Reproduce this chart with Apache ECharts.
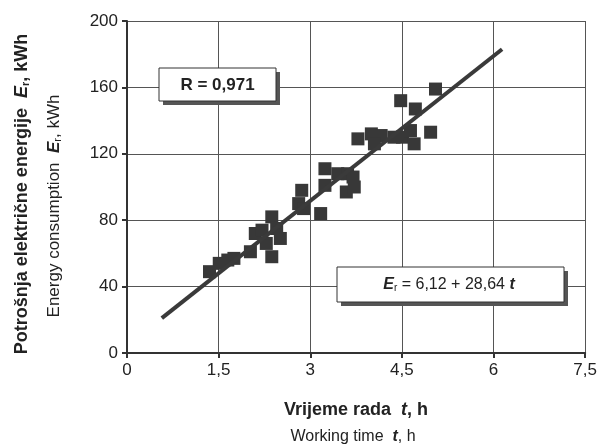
<!DOCTYPE html>
<html>
<head>
<meta charset="utf-8">
<script src="https://cdn.jsdelivr.net/npm/echarts@6/dist/echarts.min.js"></script>
<style>
  html, body { margin: 0; padding: 0; background: #fff; }
  #main { width: 600px; height: 446px; }
</style>
</head>
<body>
<div id="main"></div>
<script>
// izmjereni podaci (t, h ; E, kWh)
var tHours = [1.35, 1.51, 1.65, 1.75, 2.02, 2.10, 2.21, 2.37, 2.37, 2.51, 2.28, 2.45,
              2.81, 2.86, 2.89, 3.17, 3.24, 3.24, 3.45, 3.61, 3.59, 3.72, 3.70,
              3.78, 4.00, 4.16, 4.05, 4.37, 4.48, 4.51, 4.64, 4.70, 4.72, 4.97, 5.05];
var energy = [49, 54, 56, 57, 61, 72, 74, 82, 58, 69, 66, 75,
              90, 98, 87, 84, 111, 101, 108, 108, 97, 100, 106,
              129, 132, 131, 126, 130, 152, 130, 134, 126, 147, 133, 159];
// regresijski pravac, krajnje tocke
var fitLine = [[0.57, 21], [6.14, 183]];
var xTicks = ['0', '1,5', '3', '4,5', '6', '7,5'];

var points = tHours.map(function (t, i) { return [t, energy[i]]; });
var plain = '"Liberation Sans", Arial, sans-serif';

var myChart = echarts.init(document.getElementById('main'));
var option = {
  backgroundColor: '#fff',
  animation: false,
  grid: { left: 127, right: 10, top: 21, bottom: 93 },
  xAxis: {
    type: 'value', min: 0, max: 7.5, interval: 1.5,
    axisLine: { show: true, onZero: false, lineStyle: { color: '#333', width: 2 } },
    axisTick: { show: true, length: 5, lineStyle: { color: '#333', width: 2 } },
    splitLine: { show: true, lineStyle: { color: '#555', width: 1 } },
    axisLabel: {
      color: '#222', fontSize: 17, fontFamily: plain, margin: 9,
      formatter: function (v) { return xTicks[Math.round(v / 1.5)]; }
    }
  },
  yAxis: {
    type: 'value', min: 0, max: 200, interval: 40,
    axisLine: { show: true, lineStyle: { color: '#333', width: 2 } },
    axisTick: { show: true, length: 5, lineStyle: { color: '#333', width: 2 } },
    splitLine: { show: true, lineStyle: { color: '#555', width: 1 } },
    axisLabel: { color: '#222', fontSize: 17, fontFamily: plain, margin: 9 }
  },
  series: [
    {
      type: 'scatter', data: points, symbol: 'rect', symbolSize: 13,
      itemStyle: { color: '#383838', opacity: 1 }, z: 3
    },
    {
      type: 'line', data: fitLine, symbol: 'none',
      lineStyle: { color: '#3a3a3a', width: 4 }, z: 4
    }
  ],
  graphic: [
    // R box
    { type: 'rect', shape: { x: 163, y: 72, width: 117, height: 33 }, style: { fill: '#555' }, z: 10 },
    { type: 'rect', shape: { x: 159, y: 68, width: 117, height: 33 }, style: { fill: '#fff', stroke: '#333', lineWidth: 1 }, z: 11 },
    { type: 'text', x: 217.5, y: 85, z: 12,
      style: { text: 'R = 0,971', font: 'bold 17px ' + plain, fill: '#222', align: 'center', verticalAlign: 'middle' } },
    // equation box
    { type: 'rect', shape: { x: 341, y: 271, width: 227, height: 35 }, style: { fill: '#555' }, z: 10 },
    { type: 'rect', shape: { x: 337, y: 267, width: 227, height: 35 }, style: { fill: '#fff', stroke: '#333', lineWidth: 1 }, z: 11 },
    { type: 'text', x: 449, y: 285, z: 12,
      style: {
        text: '{b|E}{s|r}{n| = 6,12 + 28,64 }{b|t}',
        align: 'center', verticalAlign: 'middle',
        rich: {
          b: { font: 'italic bold 16px ' + plain, fill: '#222' },
          s: { font: '10px ' + plain, fill: '#222', padding: [6, 0, 0, 0] },
          n: { font: '16px ' + plain, fill: '#222' }
        }
      } },
    // y axis titles
    { type: 'text', x: 22, y: 194, rotation: Math.PI / 2, z: 12,
      style: {
        text: 'Potrošnja električne energije  {i|E}{s|r}{t|, kWh}',
        font: 'bold 18px ' + plain, fill: '#222', align: 'center', verticalAlign: 'middle',
        rich: {
          i: { font: 'italic bold 18px ' + plain, fill: '#222' },
          s: { font: 'bold 11px ' + plain, fill: '#222', padding: [7, 0, 0, 0] },
          t: { font: 'bold 18px ' + plain, fill: '#222' }
        }
      } },
    { type: 'text', x: 54, y: 206, rotation: Math.PI / 2, z: 12,
      style: {
        text: 'Energy consumption  {i|E}{s|r}{t|, kWh}',
        font: '17px ' + plain, fill: '#222', align: 'center', verticalAlign: 'middle',
        rich: {
          i: { font: 'italic bold 17px ' + plain, fill: '#222' },
          s: { font: '11px ' + plain, fill: '#222', padding: [7, 0, 0, 0] },
          t: { font: '17px ' + plain, fill: '#222' }
        }
      } },
    // x axis titles
    { type: 'text', x: 356, y: 410, z: 12,
      style: {
        text: 'Vrijeme rada  {i|t}{t|, h}',
        font: 'bold 18px ' + plain, fill: '#222', align: 'center', verticalAlign: 'middle',
        rich: {
          i: { font: 'italic bold 18px ' + plain, fill: '#222' },
          t: { font: 'bold 18px ' + plain, fill: '#222' }
        }
      } },
    { type: 'text', x: 353, y: 437, z: 12,
      style: {
        text: 'Working time  {i|t}{t|, h}',
        font: '16px ' + plain, fill: '#222', align: 'center', verticalAlign: 'middle',
        rich: {
          i: { font: 'italic bold 16px ' + plain, fill: '#222' },
          t: { font: '16px ' + plain, fill: '#222' }
        }
      } }
  ]
};
myChart.setOption(option);
</script>
</body>
</html>
